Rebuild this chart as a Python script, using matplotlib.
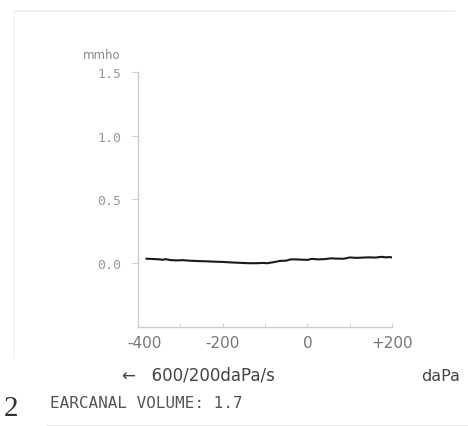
import matplotlib.pyplot as plt
from matplotlib.lines import Line2D
from matplotlib.transforms import ScaledTranslation

# pressure (daPa) and admittance (mmho)
pressure = [-380, -365, -350, -340, -335, -325, -310, -295, -280, -260, -240, -220,
            -200, -180, -160, -140, -120, -105, -95, -80, -65, -50, -40, -30, -15,
            0, 10, 25, 40, 55, 70, 85, 100, 115, 130, 145, 160, 175, 185, 195, 200]
admittance = [0.035, 0.033, 0.03, 0.027, 0.032, 0.025, 0.022, 0.024, 0.02, 0.017, 0.015, 0.012,
              0.01, 0.006, 0.003, 0.0, 0.0, 0.002, 0.0, 0.008, 0.018, 0.02, 0.03, 0.03, 0.028,
              0.026, 0.034, 0.03, 0.032, 0.038, 0.036, 0.035, 0.045, 0.042, 0.044, 0.046, 0.044,
              0.05, 0.046, 0.048, 0.044]

yticks = [0.0, 0.5, 1.0, 1.5]
ylabels = ['0.0', '0.5', '1.0', '1.5']
xticks = [-400, -200, 0, 200]
xlabels = ['-400', '-200', '0', '+200']

fig = plt.figure(figsize=(4.68, 4.27), dpi=100)
ax = fig.add_axes([0.295, 0.232, 0.543, 0.597])

gray = '#9a9a9a'
spine_c = '#c9cfd6'

ax.plot(pressure, admittance, color='#1a1a1a', lw=1.5)
ax.set_xlim(-400, 200)
ax.set_ylim(-0.5, 1.5)

for s in ['top', 'right']:
    ax.spines[s].set_visible(False)
for s in ['left', 'bottom']:
    ax.spines[s].set_color(spine_c)
    ax.spines[s].set_linewidth(1.0)

ax.set_yticks(yticks)
ax.set_yticklabels(ylabels, family='DejaVu Sans Mono', fontsize=9.5, color=gray)
ax.set_xticks(xticks)
ax.set_xticklabels(xlabels, family='DejaVu Sans', fontsize=11, color='#777777')
ax.set_xticks([-300, -100, 100], minor=True)
ax.tick_params(axis='y', length=4, pad=8, color=spine_c, direction='out')
ax.tick_params(axis='x', which='both', length=3, pad=6, color=spine_c, direction='in')

# first x label sits a bit right of its tick in the original
lab = ax.get_xticklabels()[0]
lab.set_transform(lab.get_transform() + ScaledTranslation(6 / 100, 0, fig.dpi_scale_trans))

fig.text(0.178, 0.862, 'mmho', fontsize=8.5, color='#888888', family='DejaVu Sans')
fig.text(0.26, 0.108, '\u2190   600/200daPa/s', fontsize=12, color='#444444', family='DejaVu Sans')
fig.text(0.9, 0.108, 'daPa', fontsize=11.5, color='#444444', family='DejaVu Sans')
fig.text(0.008, 0.025, '2', fontsize=21, color='#333333', family='Liberation Serif')
fig.text(0.107, 0.045, 'EARCANAL VOLUME: 1.7', fontsize=11.5, color='#555555',
         family='DejaVu Sans Mono')

# faint scanned frame lines
fig.add_artist(Line2D([0.03, 0.97], [0.972, 0.972], color='#eef0f3', lw=1.2))
fig.add_artist(Line2D([0.03, 0.03], [0.16, 0.972], color='#f3f4f6', lw=1.2))
fig.add_artist(Line2D([0.1, 1.0], [0.0, 0.0], color='#e6e6e6', lw=2))

fig.savefig('out.png', dpi=100)
